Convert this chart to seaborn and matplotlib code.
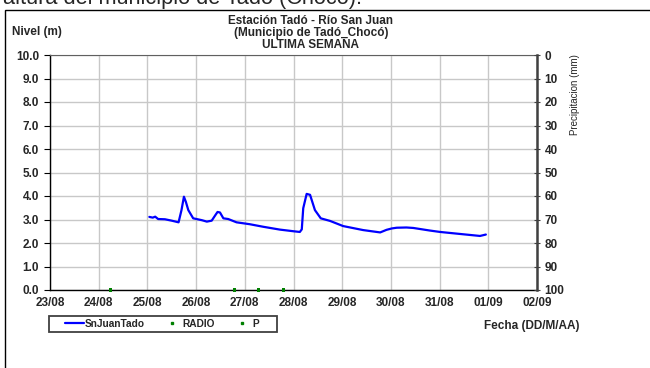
import numpy as np
import pandas as pd
import seaborn as sns
import matplotlib.pyplot as plt
from matplotlib.lines import Line2D
from matplotlib.patches import Rectangle

# dias desde 23/08 00:00
dias = [2.04, 2.11, 2.16, 2.22, 2.36, 2.50, 2.64, 2.70, 2.75, 2.79, 2.84, 2.94, 3.01,
        3.12, 3.22, 3.32, 3.40, 3.44, 3.49, 3.56, 3.66, 3.83, 4.10, 4.38, 4.72, 5.00,
        5.13, 5.17, 5.20, 5.27, 5.34, 5.44, 5.56, 5.75, 6.02, 6.43, 6.78, 6.91, 7.02,
        7.12, 7.32, 7.46, 7.80, 8.01, 8.49, 8.83, 8.95]
nivel = [3.11, 3.08, 3.12, 3.02, 3.01, 2.95, 2.88, 3.40, 3.97, 3.75, 3.40, 3.05, 3.02,
         2.97, 2.91, 2.95, 3.20, 3.32, 3.30, 3.05, 3.02, 2.88, 2.80, 2.69, 2.57, 2.50,
         2.47, 2.58, 3.48, 4.09, 4.05, 3.40, 3.05, 2.94, 2.72, 2.55, 2.45, 2.56, 2.62,
         2.65, 2.66, 2.64, 2.53, 2.47, 2.37, 2.30, 2.36]
radio_dias = [1.25, 3.79, 4.29, 4.79]
radio_val = [0.0, 0.0, 0.0, 0.0]
fechas = ['23/08', '24/08', '25/08', '26/08', '27/08', '28/08',
          '29/08', '30/08', '31/08', '01/09', '02/09']

sns.set_style('white')
plt.rcParams['font.family'] = ['Liberation Sans', 'DejaVu Sans']
plt.rcParams['font.weight'] = 'bold'

W, H = 650, 368
fig = plt.figure(figsize=(6.5, 3.68), dpi=100)
ax = fig.add_axes([50 / W, 1 - 290 / H, (537 - 50) / W, (290 - 55) / H])

df = pd.DataFrame({'dia': dias, 'nivel': nivel})
sns.lineplot(data=df, x='dia', y='nivel', color='#0000ff', linewidth=1.6, ax=ax)
sns.scatterplot(x=radio_dias, y=radio_val, color='#008000', marker='s', s=5,
                edgecolor='none', ax=ax, clip_on=False, zorder=5)

ax.set_xlim(0, 10)
ax.set_ylim(0, 10)
ax.set_xticks(range(11))
ax.set_xticklabels(fechas)
ax.set_yticks(range(11))
ax.set_yticklabels(['%.1f' % v for v in range(11)])
ax.set_xlabel('')
ax.set_ylabel('')
ax.grid(True, color='#c8c8c8', linewidth=1)
ax.tick_params(axis='both', labelsize=8.5, length=4, width=0.8, pad=4, color='black')
ax.tick_params(axis='x', direction='out', length=3, pad=2)
for s in ['left', 'bottom']:
    ax.spines[s].set_color('black')
    ax.spines[s].set_linewidth(1)
ax.spines['top'].set_color('#606060')
ax.spines['top'].set_linewidth(0.8)
ax.spines['right'].set_visible(False)

ax2 = ax.twinx()
ax2.set_ylim(100, 0)
ax2.set_yticks(range(0, 101, 10))
ax2.tick_params(axis='y', labelsize=8.5, length=5, width=0.8, direction='inout',
                color='#404040', pad=3)
for s in ['left', 'top', 'bottom']:
    ax2.spines[s].set_visible(False)
ax2.spines['right'].set_color('#404040')
ax2.spines['right'].set_linewidth(1.8)
ax2.grid(False)

fig.text(575 / W, 1 - 95 / H, 'Precipitacion (mm)', rotation=90, ha='center',
         va='center', fontsize=7, fontweight='normal')
fig.text(311 / W, 1 - 33 / H, 'Estación Tadó - Río San Juan\n(Municipio de Tadó_Chocó)\nULTIMA SEMANA',
         ha='center', va='center', fontsize=8.5, linespacing=0.95)
fig.text(12 / W, 1 - 32 / H, 'Nivel (m)', ha='left', va='center', fontsize=8.5)
fig.text(532 / W, 1 - 326 / H, 'Fecha (DD/M/AA)', ha='center', va='center', fontsize=8.5)
fig.text(3 / W, 1 - 4 / H, 'altura del municipio de Tadó (Chocó).', ha='left',
         va='baseline', fontsize=15.7, fontweight='normal')

fig.patches.append(Rectangle((5 / W, -0.1), 1.0, 1 - 10 / H + 0.1, transform=fig.transFigure,
                             fill=False, edgecolor='black', linewidth=1))
fig.patches.append(Rectangle((49 / W, 1 - 332 / H), 228 / W, 16 / H, transform=fig.transFigure,
                             fill=False, edgecolor='#404040', linewidth=1.3))

handles = [Line2D([], [], color='#0000ff', linewidth=1.6),
           Line2D([], [], color='#008000', marker='s', markersize=2, linestyle='none'),
           Line2D([], [], color='#008000', marker='s', markersize=2, linestyle='none')]
leg = fig.legend(handles, ['SnJuanTado', 'RADIO', 'P'], ncol=3, loc='center',
                 bbox_to_anchor=(162 / W, 1 - 324 / H), fontsize=7.3, frameon=False,
                 handlelength=1.8, handletextpad=0.1, columnspacing=1.8, borderpad=0)

fig.savefig('out.png', dpi=100)
